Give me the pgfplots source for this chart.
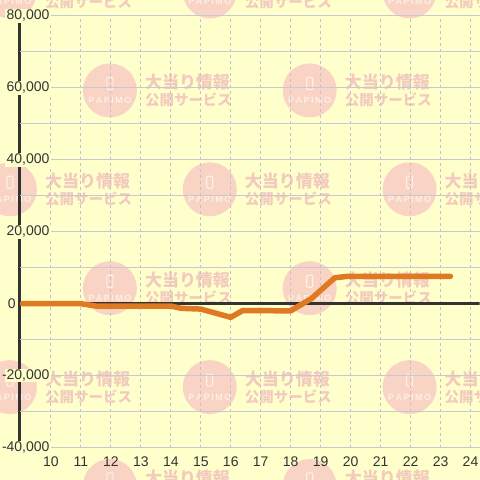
\documentclass[border=0pt]{standalone}
\usepackage{fontspec}
\setmainfont{Liberation Sans}
\newfontfamily\cjk{Noto Sans CJK JP}
\usepackage{pgfplots}
\pgfplotsset{compat=1.18}
\definecolor{bgy}{HTML}{FFFFCC}
\definecolor{wmcirc}{HTML}{F9D3C3}
\definecolor{wmtext}{HTML}{F3CBBE}
\definecolor{wmwhite}{HTML}{FDF0E4}
\definecolor{axisc}{HTML}{333333}
\definecolor{hgrid}{HTML}{C8C8D2}
\definecolor{vgrid}{HTML}{C0C0D0}
\definecolor{lineor}{HTML}{E07A22}
\begin{document}
\begin{tikzpicture}[x=1pt,y=1pt]
\fill[bgy] (0,0) rectangle (480,480);
\begin{scope}
\clip (0,0) rectangle (480,480);
\foreach \cx/\cy in {10/-8.5, 210/-8.5, 410/-8.5, 110/90.5, 310/90.5, 10/189.5, 210/189.5, 410/189.5, 110/288.5, 310/288.5, 10/387.5, 210/387.5, 410/387.5, 110/486.5, 310/486.5}{
  \pgfmathsetmacro\ty{480-\cy}
  \fill[wmcirc] (\cx,\ty) circle (27);
  \draw[wmwhite, line width=1.2pt, rounded corners=1pt] (\cx-3,\ty+1) rectangle (\cx+3,\ty+13);
  \node[text=wmwhite, inner sep=0pt, font=\fontsize{9}{9}\selectfont\bfseries] at (\cx,\ty-10) {P\,A\,P\,I\,M\,O};
  \node[anchor=west, text=wmtext, inner sep=0pt, font=\cjk\bfseries\fontsize{17}{17}\selectfont] at (\cx+35,\ty+8) {大当り情報};
  \node[anchor=west, text=wmtext, inner sep=0pt, font=\cjk\bfseries\fontsize{14.5}{14.5}\selectfont] at (\cx+35,\ty-10) {公開サービス};
}
\end{scope}
\draw[axisc, line width=3pt] (20,32) -- (20,464);
\begin{axis}[
  at={(20pt,32pt)}, anchor=south west,
  width=460pt, height=432pt, scale only axis,
  xmin=8.9667, xmax=24.3, ymin=-40000, ymax=80000,
  axis x line*=bottom, axis y line*=left,
  x axis line style={draw=none},
  y axis line style={draw=none},
  scaled y ticks=false,
  xtick={10,...,24},
  ytick={-40000,-20000,0,20000,40000,60000,80000},
  yticklabels={{\llap{-}40,000},{\llap{-}20,000},{\hspace*{1.3pt}0},{20,000},{40,000},{60,000},{80,000}},
  minor ytick={-30000,-10000,10000,30000,50000,70000},
  major tick length=0pt, minor tick length=0pt,
  xmajorgrids, ymajorgrids, yminorgrids,
  major x grid style={vgrid, line width=0.9pt, dash pattern=on 3pt off 3pt},
  major y grid style={hgrid, line width=1pt},
  minor y grid style={hgrid, line width=1pt},
  /pgf/number format/assume math mode=true,
  tick label style={font=\fontsize{14}{16}\selectfont, text=axisc},
  yticklabel style={anchor=west, fill=bgy, inner xsep=2pt, inner ysep=1pt, xshift=-15.5pt},
  xticklabel style={anchor=north, inner sep=0pt, yshift=-8.7pt},
]
\draw[axisc, line width=3pt] (axis cs:8.9667,0) -- (axis cs:24.3,0);
\addplot[lineor, line width=5.5pt, line join=round, line cap=round] coordinates {
  (9.05,0) (11,0) (11.5,-650) (14,-650) (14.35,-1300) (15,-1500) (16,-3800)
  (16.4,-1900) (18,-2000) (18.7,1500) (19.47,7200) (19.9,7600) (23.33,7600)
};
\end{axis}
\end{tikzpicture}
\end{document}
